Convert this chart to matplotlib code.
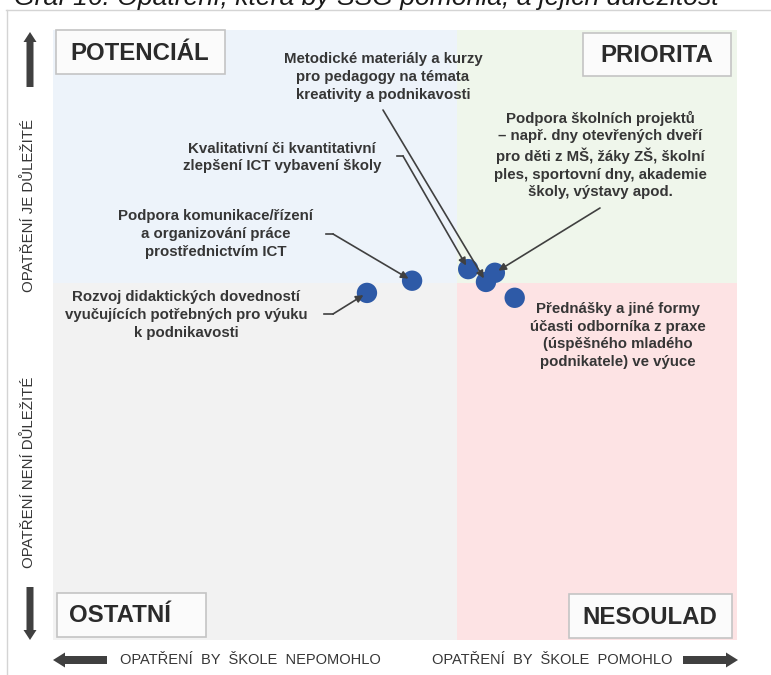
import matplotlib
matplotlib.use('Agg')
import matplotlib.pyplot as plt
import matplotlib.transforms as mtransforms
from matplotlib.patches import FancyArrow, Rectangle

# ---------------- data ----------------
title = "Graf 16: Opatření, která by SŠG pomohla, a jejich důležitost"
measures = [
    "Rozvoj didaktických dovedností\nvyučujících potřebných pro výuku\nk podnikavosti",
    "Podpora komunikace/řízení\na organizování práce\nprostřednictvím ICT",
    "Kvalitativní či kvantitativní\nzlepšení ICT vybavení školy",
    "Metodické materiály a kurzy\npro pedagogy na témata\nkreativity a podnikavosti",
    "Podpora školních projektů\n– např. dny otevřených dveří\npro děti z MŠ, žáky ZŠ, školní\nples, sportovní dny, akademie\nškoly, výstavy apod.",
    "Přednášky a jiné formy\núčasti odborníka z praxe\n(úspěšného mladého\npodnikatele) ve výuce",
]
helpfulness = [45.9, 52.5, 60.7, 63.3, 64.6, 67.5]
importance = [56.9, 58.9, 60.8, 58.7, 60.2, 56.1]
x_split = 59.1
y_split = 58.6
quadrant_names = ["POTENCIÁL", "PRIORITA", "OSTATNÍ", "NESOULAD"]
axis_texts = ["OPATŘENÍ  BY  ŠKOLE  NEPOMOHLO", "OPATŘENÍ  BY  ŠKOLE  POMOHLO",
              "OPATŘENÍ JE DŮLEŽITÉ", "OPATŘENÍ NENÍ DŮLEŽITÉ"]

# ---------------- layout ----------------
W, H, DPI = 771, 675, 100
TXT = '#363636'
DARK = '#404040'
plt.rcParams['font.family'] = ['Liberation Sans', 'DejaVu Sans']

fig = plt.figure(figsize=(W / DPI, H / DPI), dpi=DPI)
fig.patch.set_facecolor('white')
P = mtransforms.Affine2D().scale(1 / W, -1 / H).translate(0, 1) + fig.transFigure

def pt(px):
    return px * 72 / DPI

# plot area in pixels
L, R, T, B = 53, 737, 30, 640
ax = fig.add_axes([L / W, (H - B) / H, (R - L) / W, (B - T) / H])
ax.set_xlim(0, 100)
ax.set_ylim(0, 100)
ax.axis('off')

# quadrant backgrounds
ax.add_patch(Rectangle((0, y_split), x_split, 100 - y_split, facecolor='#edf3fa', edgecolor='none', zorder=0))
ax.add_patch(Rectangle((x_split, y_split), 100 - x_split, 100 - y_split, facecolor='#eff6eb', edgecolor='none', zorder=0))
ax.add_patch(Rectangle((0, 0), x_split, y_split, facecolor='#f2f2f2', edgecolor='none', zorder=0))
ax.add_patch(Rectangle((x_split, 0), 100 - x_split, y_split, facecolor='#fde3e4', edgecolor='none', zorder=0))

# points
ax.scatter(helpfulness, importance, s=215, color='#2e5aa7', edgecolors='none', zorder=3)

# outer frame lines
fig.add_artist(plt.Line2D([6, W], [9.5, 9.5], transform=P, color='#d4d4d4', lw=1))
fig.add_artist(plt.Line2D([6.5, 6.5], [9.5, H], transform=P, color='#d4d4d4', lw=1))

# title (clipped at the top edge, as in the source image)
t = fig.text(14, 5, title, transform=P, fontsize=18, style='italic', color='#1a1a1a',
             ha='left', va='baseline')
fig.canvas.draw()
bb = t.get_window_extent()
t.set_fontsize(18 * 704 / bb.width)

# quadrant label boxes (x0, y0, x1, y1, text_x, ha)
boxes = [(56, 30, 225, 74, 70, 'left'), (583, 33, 731, 76, 657, 'center'),
         (57, 593, 206, 637, 69, 'left'), (569, 594, 732, 638, 650, 'center')]
for name, (x0, y0, x1, y1, tx, ha) in zip(quadrant_names, boxes):
    fig.add_artist(Rectangle((x0, y0), x1 - x0, y1 - y0, transform=P, facecolor='#fbfbfb',
                             edgecolor='#c4c4c4', lw=1.2, zorder=5))
    fig.text(tx, (y0 + y1) / 2 + 1, name, transform=P, fontsize=pt(24), fontweight='bold',
             color='#2b2b2b', ha=ha, va='center', zorder=6)

# axis texts
fig.text(250, 660, axis_texts[0], transform=P, fontsize=pt(14.6), color=TXT, ha='center', va='center')
fig.text(552, 660, axis_texts[1], transform=P, fontsize=pt(14.6), color=TXT, ha='center', va='center')
fig.text(29, 205, axis_texts[2], transform=P, fontsize=pt(15), color=TXT, ha='center', va='center', rotation=90)
fig.text(29, 472, axis_texts[3], transform=P, fontsize=pt(15), color=TXT, ha='center', va='center', rotation=90)

# big block arrows
def block_arrow(x0, y0, x1, y1, w, hw, hl):
    fig.add_artist(FancyArrow(x0, y0, x1 - x0, y1 - y0, width=w, head_width=hw, head_length=hl,
                              length_includes_head=True, transform=P, color=DARK, lw=0))

block_arrow(30, 87, 30, 32, 7, 13, 10)
block_arrow(30, 587, 30, 640, 7, 13, 10)
block_arrow(107, 660, 53, 660, 8, 15, 12)
block_arrow(683, 660, 738, 660, 8, 15, 12)

# annotation texts (center x, center y)
text_pos = [(186, 315), (216, 234), (282, 157.5), (383, 77), (600, 155), (618, 335.5)]
# connector: (stub start or None, line start) in pixels; None -> no connector
connectors = [((324, 314), (333, 314)), ((326, 234), (333, 234)), ((397, 156), (403, 156)),
              (None, (383, 110)), (None, (600, 208)), None]

for label, (tx, ty), con, xv, yv in zip(measures, text_pos, connectors, helpfulness, importance):
    fig.text(tx, ty, label, transform=P, fontsize=pt(15), fontweight='bold', color=TXT,
             ha='center', va='center', multialignment='center', linespacing=1.33, zorder=4)
    if con is None:
        continue
    stub, start = con
    if stub is not None:
        fig.add_artist(plt.Line2D([stub[0], start[0]], [stub[1], start[1]], transform=P,
                                  color=DARK, lw=1.2, zorder=4))
    ax.annotate("", xy=(xv, yv), xycoords='data', xytext=start, textcoords=P,
                arrowprops=dict(arrowstyle='-|>', color=DARK, lw=1.2, shrinkA=0, shrinkB=3,
                                mutation_scale=11), zorder=4)

fig.savefig('out.png', dpi=DPI, facecolor='white')
